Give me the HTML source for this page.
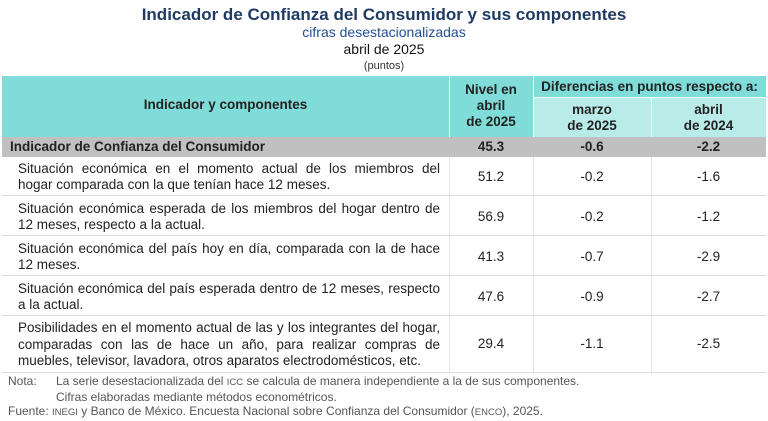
<!DOCTYPE html>
<html><head><meta charset="utf-8"><style>
*{margin:0;padding:0;box-sizing:border-box}
body{width:768px;height:421px;background:#fff;font-family:"Liberation Sans Narrow","Liberation Sans",sans-serif;color:#222;position:relative;overflow:hidden}
.a{position:absolute}
.c{text-align:center}
.t{font-size:13.5px;line-height:16px}
.j div{text-align:justify;text-align-last:justify;white-space:nowrap}
.j div.l{text-align-last:left}
</style></head><body>
<div class="a c" style="left:0;width:768px;top:5px;font-family:'Liberation Sans',sans-serif;font-weight:bold;font-size:17px;color:#1f3b63">Indicador de Confianza del Consumidor y sus componentes</div>
<div class="a c" style="left:0;width:768px;top:24px;font-family:'Liberation Sans',sans-serif;font-size:14px;color:#1f4e9a">cifras desestacionalizadas</div>
<div class="a c" style="left:0;width:768px;top:41px;font-family:'Liberation Sans',sans-serif;font-size:14px;color:#111">abril de 2025</div>
<div class="a c" style="left:0;width:768px;top:60px;font-family:'Liberation Sans',sans-serif;font-size:11px;color:#333">(puntos)</div>

<div class="a" style="left:2px;top:76px;width:764px;height:61px;background:#80dcd8"></div>
<div class="a" style="left:533px;top:98px;width:233px;height:39px;background:#b9ece9"></div>
<div class="a" style="left:449px;top:76px;width:1px;height:61px;background:#fff"></div>
<div class="a" style="left:533px;top:76px;width:1px;height:61px;background:#fff"></div>
<div class="a" style="left:651px;top:98px;width:1px;height:39px;background:#fff"></div>
<div class="a" style="left:533px;top:97px;width:233px;height:1px;background:#fff"></div>
<div class="a c t" style="left:2px;width:447px;top:97px;font-weight:bold">Indicador y componentes</div>
<div class="a c t" style="left:449px;width:84px;top:82px;font-weight:bold">Nivel en<br>abril<br>de 2025</div>
<div class="a c t" style="left:533px;width:233px;top:79px;font-weight:bold">Diferencias en puntos respecto a:</div>
<div class="a c t" style="left:533px;width:118px;top:102px;font-weight:bold">marzo<br>de 2025</div>
<div class="a c t" style="left:651px;width:115px;top:102px;font-weight:bold">abril<br>de 2024</div>

<div class="a" style="left:2px;top:137px;width:764px;height:20px;background:#c0c0c0"></div>
<div class="a t" style="left:10px;top:139px;font-weight:bold">Indicador de Confianza del Consumidor</div>
<div class="a c t" style="left:449px;width:84px;top:139px;font-weight:bold">45.3</div>
<div class="a c t" style="left:533px;width:118px;top:139px;font-weight:bold">-0.6</div>
<div class="a c t" style="left:651px;width:115px;top:139px;font-weight:bold">-2.2</div>

<div class="a" style="left:2px;top:195px;width:764px;height:1px;background:#ddd"></div>
<div class="a" style="left:2px;top:235px;width:764px;height:1px;background:#ddd"></div>
<div class="a" style="left:2px;top:275px;width:764px;height:1px;background:#ddd"></div>
<div class="a" style="left:2px;top:315px;width:764px;height:1px;background:#ddd"></div>
<div class="a" style="left:2px;top:372px;width:764px;height:1px;background:#ddd"></div>
<div class="a" style="left:449px;top:157px;width:1px;height:215px;background:#e4e4e4"></div>
<div class="a" style="left:533px;top:157px;width:1px;height:215px;background:#e4e4e4"></div>
<div class="a" style="left:651px;top:157px;width:1px;height:215px;background:#e4e4e4"></div>

<div class="a t j" style="left:18px;width:422px;top:161px"><div>Situación económica en el momento actual de los miembros del</div><div class="l">hogar comparada con la que tenían hace 12 meses.</div></div>
<div class="a c t" style="left:449px;width:84px;top:169px">51.2</div>
<div class="a c t" style="left:533px;width:118px;top:169px">-0.2</div>
<div class="a c t" style="left:651px;width:115px;top:169px">-1.6</div>

<div class="a t j" style="left:18px;width:422px;top:201px"><div>Situación económica esperada de los miembros del hogar dentro de</div><div class="l">12 meses, respecto a la actual.</div></div>
<div class="a c t" style="left:449px;width:84px;top:209px">56.9</div>
<div class="a c t" style="left:533px;width:118px;top:209px">-0.2</div>
<div class="a c t" style="left:651px;width:115px;top:209px">-1.2</div>

<div class="a t j" style="left:18px;width:422px;top:241px"><div>Situación económica del país hoy en día, comparada con la de hace</div><div class="l">12 meses.</div></div>
<div class="a c t" style="left:449px;width:84px;top:249px">41.3</div>
<div class="a c t" style="left:533px;width:118px;top:249px">-0.7</div>
<div class="a c t" style="left:651px;width:115px;top:249px">-2.9</div>

<div class="a t j" style="left:18px;width:422px;top:281px"><div>Situación económica del país esperada dentro de 12 meses, respecto</div><div class="l">a la actual.</div></div>
<div class="a c t" style="left:449px;width:84px;top:289px">47.6</div>
<div class="a c t" style="left:533px;width:118px;top:289px">-0.9</div>
<div class="a c t" style="left:651px;width:115px;top:289px">-2.7</div>

<div class="a t j" style="left:18px;width:422px;top:320px;line-height:16.5px"><div>Posibilidades en el momento actual de las y los integrantes del hogar,</div><div>comparadas con las de hace un año, para realizar compras de</div><div class="l">muebles, televisor, lavadora, otros aparatos electrodomésticos, etc.</div></div>
<div class="a c t" style="left:449px;width:84px;top:336px">29.4</div>
<div class="a c t" style="left:533px;width:118px;top:336px">-1.1</div>
<div class="a c t" style="left:651px;width:115px;top:336px">-2.5</div>

<div class="a" style="left:8px;top:374px;font-size:12px;line-height:14px;color:#555">
<div><span style="display:inline-block;width:48px">Nota:</span>La serie desestacionalizada del <span style="font-size:9.5px">ICC</span> se calcula de manera independiente a la de sus componentes.</div>
<div><span style="display:inline-block;width:48px"></span>Cifras elaboradas mediante métodos econométricos.</div>
<div>Fuente: <span style="font-size:9.5px">INEGI</span> y Banco de México. Encuesta Nacional sobre Confianza del Consumidor (<span style="font-size:9.5px">ENCO</span>), 2025.</div>
</div>
</body></html>
